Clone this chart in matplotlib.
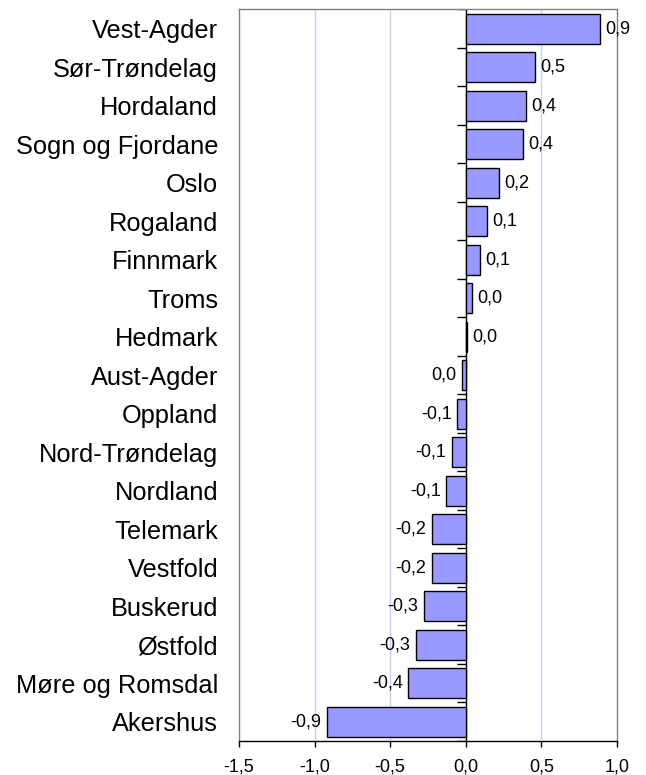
import numpy as np
import matplotlib
matplotlib.use("Agg")
import matplotlib.pyplot as plt

# fylker, ovenfra og ned
fylker = ["Vest-Agder", "Sør-Trøndelag", "Hordaland", "Sogn og Fjordane", "Oslo",
          "Rogaland", "Finnmark", "Troms", "Hedmark", "Aust-Agder", "Oppland",
          "Nord-Trøndelag", "Nordland", "Telemark", "Vestfold", "Buskerud",
          "Østfold", "Møre og Romsdal", "Akershus"]
endring = [0.89, 0.455, 0.40, 0.38, 0.218, 0.14, 0.097, 0.04, 0.008, -0.025, -0.055,
           -0.093, -0.13, -0.225, -0.225, -0.278, -0.33, -0.38, -0.92]
xticks = [-1.5, -1.0, -0.5, 0.0, 0.5, 1.0]

plt.rcParams['font.family'] = ['Liberation Sans', 'DejaVu Sans']

def komma(v):
    s = f"{v:.1f}"
    if s == "-0.0":
        s = "0.0"
    return s.replace(".", ",")

fig = plt.figure(figsize=(6.46, 7.75), dpi=100)
ax = fig.add_axes([0.370, 0.044, 0.585, 0.944])

n = len(fylker)
y = np.arange(n)
ax.barh(y, endring, height=0.78, color="#9999FF", edgecolor="black", linewidth=1.0, zorder=3)

# vertikale hjelpelinjer
for gx in [-1.0, -0.5, 0.5]:
    ax.axvline(gx, color="#CCCCFF", linewidth=1.0, zorder=1)

# akse ved null med små streker mellom kategoriene
ax.axvline(0, color="black", linewidth=1.0, zorder=2)
ax.hlines(np.arange(n + 1) - 0.5, -0.055, 0, color="black", linewidth=1.0, zorder=2)

for yi, v in zip(y, endring):
    if v >= 0:
        ax.text(v + 0.035, yi, komma(v), ha="left", va="center", fontsize=13, zorder=4)
    else:
        ax.text(v - 0.035, yi, komma(v), ha="right", va="center", fontsize=13, zorder=4)

ax.set_xlim(-1.5, 1.0)
ax.set_ylim(n - 0.5, -0.5)
ax.set_xticks(xticks)
ax.set_xticklabels([komma(t) for t in xticks], fontsize=13)
ax.tick_params(axis="x", direction="out", length=4.5, width=1, pad=8)
ax.set_yticks(y)
ax.set_yticklabels(fylker, fontsize=18.3)
ax.tick_params(axis="y", length=0, pad=15)

for side in ["top", "left", "right"]:
    ax.spines[side].set_color("#808080")
    ax.spines[side].set_linewidth(1.0)
ax.spines["bottom"].set_color("black")
ax.spines["bottom"].set_linewidth(1.0)

fig.savefig("out.png", dpi=100, facecolor="white")
